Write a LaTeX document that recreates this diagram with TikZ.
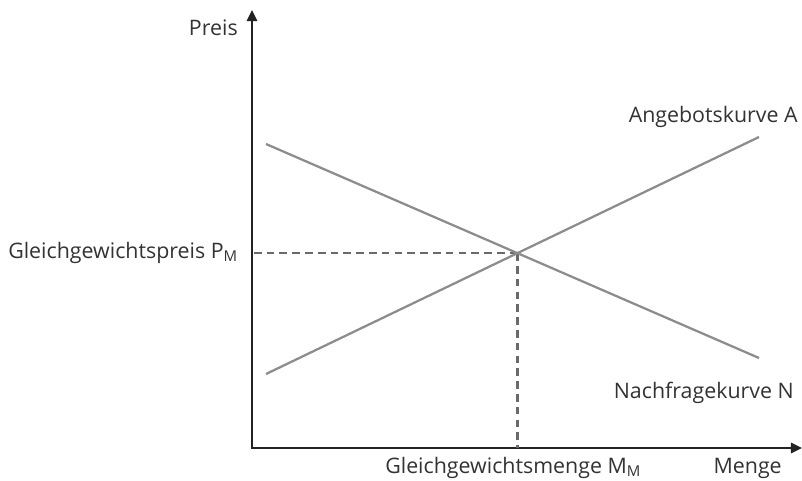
\documentclass[tikz,border=0pt]{standalone}
\usepackage{fontspec}
\setmainfont{Open Sans}
\usepackage{xcolor}
\usetikzlibrary{positioning,arrows.meta}
\definecolor{achsfarbe}{HTML}{222222}
\definecolor{kurvfarbe}{HTML}{8C8C8C}
\definecolor{hilfsfarbe}{HTML}{6A6A6A}
\definecolor{schriftfarbe}{HTML}{333333}
\tikzset{
  achsen/.style={achsfarbe, line width=1.5pt},
  kurven/.style={kurvfarbe, line width=1.6pt},
  hilfslinie/.style={hilfsfarbe, line width=1.6pt, dash pattern=on 5.5pt off 3.6pt},
  beschriftung/.style={text=schriftfarbe, font=\fontsize{15.2}{18}\selectfont, inner sep=0pt}
}

\begin{document}
\begin{tikzpicture}[x=0.025cm, y=-0.025cm]
\useasboundingbox (0,0) rectangle (802,480);
              \coordinate (O) at (252,448);
              \coordinate (ytop) at (252,10);
              \coordinate (xend) at (802,448);
              \draw[achsen,{Triangle[length=8pt,width=7.5pt]}-{Triangle[length=8pt,width=7.5pt]}] (ytop)--(O)--(xend);
\coordinate (A1) at (266,374);
\coordinate (A2) at (759,137);
\coordinate (N1) at (266,144);
\coordinate (N2) at (759,358);
\coordinate (E) at (intersection of A1--A2 and N1--N2);
\draw[hilfslinie] (E)--(E -| O);
\draw[hilfslinie] (E)--(E |- O);
\draw[kurven] (A1)--(A2);
\draw[kurven] (N1)--(N2);
\node[beschriftung, anchor=base east] (preis) at (238,35) {Preis};
\node[beschriftung, anchor=base west] (pm) at (8,258) {Gleichgewichtspreis P\textsubscript{M}};
\node[beschriftung, anchor=base west] (mm) at (385,473) {Gleichgewichtsmenge M\textsubscript{M}};
\node[beschriftung, anchor=base east] (menge) at (782,473) {Menge};
\node[beschriftung, anchor=base east] (angebot) at (798,122) {Angebotskurve A};
\node[beschriftung, anchor=base east] (nachfrage) at (794,398) {Nachfragekurve N};
\end{tikzpicture}
\end{document}
